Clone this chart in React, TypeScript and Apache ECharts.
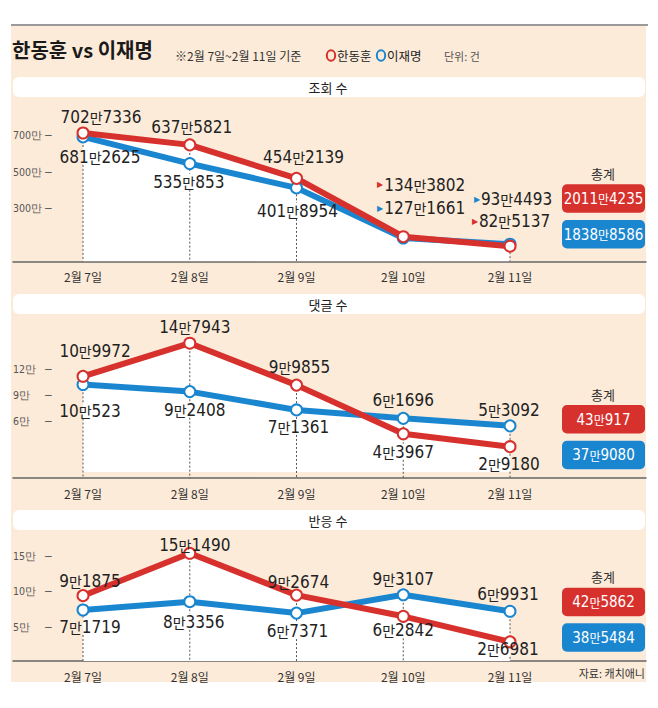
import React, { useEffect, useRef } from "react";
import * as echarts from "echarts";

// ---------- data ----------
const dates = ["2월 7일", "2월 8일", "2월 9일", "2월 10일", "2월 11일"];
const panelTitles = ["조회 수", "댓글 수", "반응 수"];
const viewsHan = [7027336, 6375821, 4542139, 1343802, 825137];
const viewsLee = [6812625, 5350853, 4018954, 1271661, 934493];
const commentsHan = [109972, 147943, 99855, 43967, 29180];
const commentsLee = [100523, 92408, 71361, 61696, 53092];
const reactionsHan = [91875, 151490, 92674, 62842, 26981];
const reactionsLee = [71719, 83356, 67371, 93107, 69931];
const totalsHan = [20114235, 430917, 425862];
const totalsLee = [18388586, 379080, 385484];
const yTicks1 = [3000000, 5000000, 7000000];
const yTicks2 = [60000, 90000, 120000];
const yTicks3 = [50000, 100000, 150000];

// ---------- style / layout ----------
const NARROW = '"Liberation Sans Narrow", "Arial Narrow", "DejaVu Sans Condensed", "Liberation Sans", sans-serif';
const KR = '"Noto Sans CJK KR", "Noto Sans", sans-serif';
const RED = "#d7312d";
const BLUE = "#1b86d0";
const BEIGE = "#fdebd9";

// label offsets [dx, dy] relative to point centre
const layoutHan = [
  [[18, -16], [2, -18], [7, -21], [18, -52], [1, -25]],
  [[12, -25], [5, -16], [3, -18], [0, 18], [-1, 17]],
  [[7, -15], [5, -8], [2, -13], [0, 14], [-2, 7]],
];
const layoutLee = [
  [[17, 20], [-1, 18], [1, 23], [18, -30], [3, -45]],
  [[7, 26], [5, 18], [2, 17], [0, -18], [-1, -16]],
  [[7, 17], [4, 20], [1, 18], [0, -16], [-2, -17]],
];
const arrowMarks = [
  [false, false, false, true, true],
  [false, false, false, false, false],
  [false, false, false, false, false],
];
const showGuide = [
  [true, true, true, false, true],
  [true, true, true, true, true],
  [true, true, true, true, true],
];
const grids = [
  { top: 97, height: 164.25, min: 0, max: 9000000 },
  { top: 315.3, height: 162.9, min: -7000, max: 180000 },
  { top: 533, height: 128, min: 0, max: 180000 },
];
const headerBars = [77, 294, 510];
const totalsPos = [
  { label: 173, red: 184.3, blue: 220 },
  { label: 394, red: 405, blue: 440.7 },
  { label: 576.7, red: 587.7, blue: 623.3 },
];

const panels = [
  { han: viewsHan, lee: viewsLee, ticks: yTicks1 },
  { han: commentsHan, lee: commentsLee, ticks: yTicks2 },
  { han: reactionsHan, lee: reactionsLee, ticks: yTicks3 },
];

function richNum(v: number, n = "n", m = "m") {
  const a = Math.floor(v / 10000);
  const r = v % 10000;
  return `{${n}|${a}}{${m}|만}{${n}|${r}}`;
}

const labelRich = {
  n: { fontFamily: NARROW, fontSize: 17, color: "#222", lineHeight: 18 },
  m: { fontFamily: KR, fontSize: 14, color: "#222", lineHeight: 18 },
  ar: { fontSize: 8, color: RED, lineHeight: 18, padding: [0, 1, 0, 0] },
  ab: { fontSize: 8, color: BLUE, lineHeight: 18, padding: [0, 1, 0, 0] },
};

export default function App() {
  const ref = useRef<HTMLDivElement>(null);
  useEffect(() => {
    if (!ref.current) return;
    const chart = echarts.init(ref.current, undefined, { renderer: "svg" });

    const gridOpts: any[] = [];
    const xAxes: any[] = [];
    const yAxes: any[] = [];
    const series: any[] = [];
    const graphic: any[] = [];

    // backgrounds
    graphic.push({ type: "rect", z: -10, shape: { x: 11, y: 26, width: 635, height: 656 }, style: { fill: BEIGE } });
    graphic.push({ type: "rect", z: -9, shape: { x: 11, y: 24, width: 637, height: 2 }, style: { fill: "#9a9a9a" } });
    // title
    graphic.push({ type: "text", z: 10, x: 12, y: 49, style: { text: "한동훈 vs 이재명", fontFamily: KR, fontSize: 20, fontWeight: "bold", fill: "#1a1a1a", verticalAlign: "middle", align: "left" } });
    graphic.push({ type: "text", z: 10, x: 175, y: 55, style: { text: "※2월 7일~2월 11일 기준", fontFamily: KR, fontSize: 12, fill: "#333", verticalAlign: "middle", align: "left" } });
    graphic.push({ type: "ellipse", z: 10, shape: { cx: 331, cy: 55.5, rx: 4.2, ry: 5.2 }, style: { fill: "none", stroke: RED, lineWidth: 2 } });
    graphic.push({ type: "text", z: 10, x: 337, y: 55.5, style: { text: "한동훈", fontFamily: KR, fontSize: 12.5, fill: "#222", verticalAlign: "middle", align: "left" } });
    graphic.push({ type: "ellipse", z: 10, shape: { cx: 381, cy: 55.5, rx: 4.2, ry: 5.2 }, style: { fill: "none", stroke: BLUE, lineWidth: 2 } });
    graphic.push({ type: "text", z: 10, x: 387, y: 55.5, style: { text: "이재명", fontFamily: KR, fontSize: 12.5, fill: "#222", verticalAlign: "middle", align: "left" } });
    graphic.push({ type: "text", z: 10, x: 444, y: 55.5, style: { text: "단위: 건", fontFamily: KR, fontSize: 11, fill: "#555", verticalAlign: "middle", align: "left" } });
    graphic.push({ type: "text", z: 10, x: 645, y: 673, style: { text: "자료: 캐치애니", fontFamily: KR, fontSize: 11, fill: "#333", verticalAlign: "middle", align: "right" } });

    panels.forEach((p, k) => {
      const g = grids[k];
      gridOpts.push({ left: 13, right: 12, top: g.top, height: g.height });
      xAxes.push({
        type: "value",
        gridIndex: k,
        min: -0.656,
        max: 5.274,
        axisLine: { show: true, onZero: false, lineStyle: { color: "#666", width: 1.5 } },
        axisTick: { show: false },
        splitLine: { show: false },
        axisLabel: {
          customValues: [0, 1, 2, 3, 4],
          formatter: (v: number) => dates[Math.round(v)],
          fontFamily: KR,
          fontSize: 12,
          color: "#333",
          margin: 9,
        },
      });
      yAxes.push({
        type: "value",
        gridIndex: k,
        min: g.min,
        max: g.max,
        axisLine: { show: false },
        axisTick: { show: false },
        splitLine: { show: false },
        axisLabel: {
          customValues: p.ticks,
          inside: true,
          margin: 0,
          padding: [3, 0, 0, 0],
          formatter: (v: number) => `{t|${v / 10000}만}{d|–}`,
          rich: {
            t: { width: 32, fontFamily: NARROW, fontSize: 10.5, color: "#555", align: "left" },
            d: { fontSize: 12, color: "#555" },
          },
        },
      });

      // header bar
      const hb = headerBars[k];
      graphic.push({ type: "rect", z: -5, shape: { x: 13, y: hb, width: 632, height: 20, r: 6 }, style: { fill: "#fff" } });
      graphic.push({ type: "text", z: 10, x: 328, y: hb + 10, style: { text: panelTitles[k], fontFamily: KR, fontSize: 13, fill: "#222", align: "center", verticalAlign: "middle" } });

      // totals
      const tp = totalsPos[k];
      graphic.push({ type: "text", z: 10, x: 603, y: tp.label, style: { text: "총계", fontFamily: KR, fontSize: 13, fill: "#333", align: "center", verticalAlign: "middle" } });
      const totalRich = {
        n: { fontFamily: NARROW, fontSize: 15, fill: "#fff", color: "#fff" },
        m: { fontFamily: KR, fontSize: 12, fill: "#fff", color: "#fff" },
      };
      graphic.push({ type: "rect", z: 5, shape: { x: 562, y: tp.red, width: 83, height: 28.5, r: 5 }, style: { fill: RED } });
      graphic.push({ type: "text", z: 10, x: 603.5, y: tp.red + 14.5, style: { text: richNum(totalsHan[k]), rich: totalRich, align: "center", verticalAlign: "middle" } });
      graphic.push({ type: "rect", z: 5, shape: { x: 562, y: tp.blue, width: 83, height: 28.5, r: 5 }, style: { fill: BLUE } });
      graphic.push({ type: "text", z: 10, x: 603.5, y: tp.blue + 14.5, style: { text: richNum(totalsLee[k]), rich: totalRich, align: "center", verticalAlign: "middle" } });

      const area = (vals: number[], name: string) => ({
        type: "line",
        name,
        xAxisIndex: k,
        yAxisIndex: k,
        data: vals.map((v, i) => [i, v]),
        symbol: "none",
        silent: true,
        z: 1,
        lineStyle: { width: 0 },
        areaStyle: { color: "#fff", opacity: 1 },
      });
      series.push(area(p.lee, "area-lee-" + k));
      series.push(area(p.han, "area-han-" + k));

      // dotted guides
      const guideData = dates
        .map((_, i) => [i, Math.max(p.han[i], p.lee[i])])
        .filter((_, i) => showGuide[k][i]);
      series.push({
        type: "custom",
        xAxisIndex: k,
        yAxisIndex: k,
        silent: true,
        z: 2,
        data: guideData,
        renderItem: (params: any, api: any) => {
          const i = api.value(0);
          const top = api.coord([i, api.value(1)]);
          const bottom = api.coord([i, g.min]);
          const x = top[0];
          const gaps: number[][] = [];
          [
            [p.han, layoutHan[k]],
            [p.lee, layoutLee[k]],
          ].forEach(([vals, lay]: any) => {
            const pt = api.coord([i, vals[i]]);
            const [dx, dy] = lay[i];
            const cy = pt[1] + dy;
            if (Math.abs(dx) < 25 && cy > top[1]) gaps.push([cy - 8, cy + 8]);
          });
          gaps.sort((a, b) => a[0] - b[0]);
          const segs: number[][] = [];
          let y = top[1];
          gaps.forEach(([a, b]) => {
            if (a > y) segs.push([y, a]);
            y = Math.max(y, b);
          });
          if (bottom[1] > y) segs.push([y, bottom[1]]);
          return {
            type: "group",
            children: segs.map(([a, b]) => ({
              type: "line",
              shape: { x1: x, y1: a, x2: x, y2: b },
              style: { stroke: "#555", lineWidth: 1, lineDash: [2, 2] },
            })),
          };
        },
      });

      const line = (vals: number[], lay: number[][], color: string, arrowCls: string, name: string) => ({
        type: "line",
        name,
        xAxisIndex: k,
        yAxisIndex: k,
        z: 3,
        silent: true,
        symbol: "circle",
        symbolSize: 11,
        itemStyle: { color: "#fff", borderColor: color, borderWidth: 2 },
        lineStyle: { color, width: 6 },
        data: vals.map((v, i) => ({
          value: [i, v],
          label: {
            show: true,
            position: "inside",
            offset: lay[i],
            formatter: () => (arrowMarks[k][i] ? `{${arrowCls}|▶}` : "") + richNum(v),
            rich: labelRich,
          },
        })),
      });
      series.push(line(p.lee, layoutLee[k], BLUE, "ab", "이재명-" + k));
      series.push(line(p.han, layoutHan[k], RED, "ar", "한동훈-" + k));
    });

    chart.setOption({
      animation: false,
      backgroundColor: "#fff",
      grid: gridOpts,
      xAxis: xAxes,
      yAxis: yAxes,
      series,
      graphic,
    });
    return () => chart.dispose();
  }, []);
  return <div ref={ref} style={{ position: "absolute", left: 0, top: 0, width: 658, height: 708 }} />;
}
